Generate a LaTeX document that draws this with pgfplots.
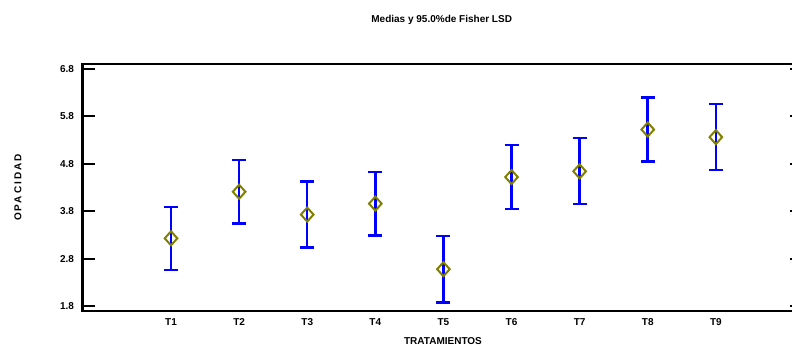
\documentclass[border=0pt]{standalone}
\usepackage{fontspec}
\setmainfont{Liberation Sans}
\usepackage{pgfplots}
\pgfplotsset{compat=1.18}
\definecolor{olivemk}{RGB}{128,128,0}
\pgfplotstableread{
x y e
1 3.23 0.666
2 4.21 0.670
3 3.73 0.695
4 3.96 0.670
5 2.58 0.700
6 4.52 0.667
7 4.64 0.695
8 5.52 0.673
9 5.36 0.695
}\datatable
\begin{document}
\begin{tikzpicture}
\begin{axis}[
  at={(82.5pt,36pt)}, anchor=south west,
  scale only axis, width=720.5pt, height=247pt,
  xmin=-0.3, xmax=10.28, ymin=1.7, ymax=6.9,
  xtick={1,2,3,4,5,6,7,8,9},
  xticklabels={T1,T2,T3,T4,T5,T6,T7,T8,T9},
  ytick={1.8,2.8,3.8,4.8,5.8,6.8},
  /pgf/number format/assume math mode=true,
  yticklabel style={/pgf/number format/fixed, /pgf/number format/precision=1, /pgf/number format/fixed zerofill, xshift=-5pt},
  xticklabel style={yshift=-4pt},
  tick label style={font=\fontsize{10}{12}\selectfont\bfseries},
  tick align=inside,
  major tick length=13pt,
  x tick style={draw=none},
  y tick style={black, line width=2pt},
  axis line style={line width=2.2pt},
  clip=false,
]
\addplot[only marks, mark=diamond, mark size=7pt,
  mark options={draw=olivemk, line width=2pt, fill=none, xscale=1.2},
  error bars/.cd, y dir=both, y explicit,
  error mark=|,
  error mark options={blue, line width=2.2pt, mark size=7pt},
  error bar style={blue, line width=2.5pt}]
  table[x=x, y=y, y error=e] {\datatable};
\end{axis}
\node[rotate=90, font=\fontsize{10}{12}\selectfont\bfseries\addfontfeatures{LetterSpace=20}] at (18pt,159.5pt) {OPACIDAD};
\node[font=\fontsize{10}{12}\selectfont\bfseries] at (443pt,5.5pt) {TRATAMIENTOS};
\node[font=\fontsize{10}{12}\selectfont\bfseries] at (441.7pt,327.5pt) {Medias y 95.0\%de Fisher LSD};
\pgfresetboundingbox
\useasboundingbox (0pt,0pt) rectangle (792pt,347pt);
\end{tikzpicture}
\end{document}
